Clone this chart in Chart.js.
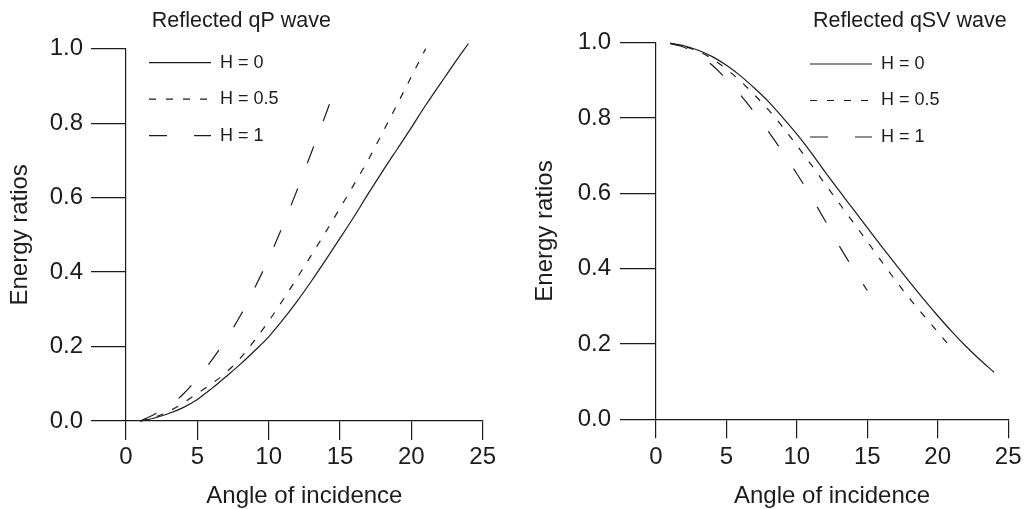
<!DOCTYPE html>
<html>
<head>
<meta charset="utf-8">
<script src="https://cdn.jsdelivr.net/npm/chart.js@4/dist/chart.umd.min.js"></script>
<style>
  html, body { margin: 0; padding: 0; background: #fff; }
  #wrap { position: relative; width: 1029px; height: 509px; overflow: hidden; }
  #qpChart { position: absolute; left: 0; top: 0; }
  #svChart { position: absolute; left: 515px; top: 0; }
</style>
</head>
<body>
<div id="wrap">
  <canvas id="qpChart" width="515" height="509"></canvas>
  <canvas id="svChart" width="514" height="509"></canvas>
</div>
<script>
// legend / axis text
var seriesLabels = ['H = 0', 'H = 0.5', 'H = 1'];
var xTickValues = [0, 5, 10, 15, 20, 25];
var yTickValues = [0, 0.2, 0.4, 0.6, 0.8, 1.0];
var yTickLabels = ['0.0', '0.2', '0.4', '0.6', '0.8', '1.0'];

// Reflected qP wave
var qpAnglesH0 = [1, 2, 3, 4, 5, 6, 7, 8, 9, 10, 11, 12, 13, 14, 15, 16, 17, 18, 19, 20, 21, 22, 23, 24];
var qpEnergyH0 = [0, 0.008, 0.020, 0.036, 0.058, 0.087, 0.119, 0.152, 0.188, 0.226, 0.272, 0.322, 0.376, 0.433, 0.491, 0.550, 0.612, 0.672, 0.730, 0.788, 0.848, 0.904, 0.960, 1.014];
var qpAnglesH05 = [1, 2, 3, 4, 5, 6, 7, 8, 9, 10, 11, 12, 13, 14, 15, 16, 17, 18, 19, 20, 21];
var qpEnergyH05 = [0, 0.010, 0.026, 0.048, 0.074, 0.100, 0.130, 0.168, 0.216, 0.268, 0.325, 0.385, 0.446, 0.508, 0.572, 0.637, 0.703, 0.776, 0.850, 0.925, 1.0];
var qpAnglesH1 = [1, 2, 3, 4, 5, 6, 7, 8, 9, 10, 11, 12, 13, 14, 14.5];
var qpEnergyH1 = [0, 0.018, 0.040, 0.072, 0.114, 0.163, 0.219, 0.282, 0.356, 0.436, 0.526, 0.621, 0.722, 0.824, 0.876];

// Reflected qSV wave
var svAnglesH0 = [1, 2, 3, 4, 5, 6, 7, 8, 9, 10, 11, 12, 13, 14, 15, 16, 17, 18, 19, 20, 21, 22, 23, 24];
var svEnergyH0 = [0.998, 0.992, 0.980, 0.963, 0.940, 0.912, 0.879, 0.843, 0.801, 0.757, 0.709, 0.657, 0.607, 0.558, 0.509, 0.460, 0.412, 0.365, 0.319, 0.275, 0.233, 0.194, 0.158, 0.125];
var svAnglesH05 = [1, 2, 3, 4, 5, 6, 7, 8, 9, 10, 11, 12, 13, 14, 15, 16, 17, 18, 19, 20, 21];
var svEnergyH05 = [0.998, 0.990, 0.977, 0.957, 0.930, 0.898, 0.861, 0.821, 0.776, 0.727, 0.677, 0.625, 0.574, 0.523, 0.472, 0.420, 0.369, 0.321, 0.276, 0.232, 0.188];
var svAnglesH1 = [1, 2, 3, 4, 5, 6, 7, 8, 9, 10, 11, 12, 13, 14, 15];
var svEnergyH1 = [0.998, 0.988, 0.968, 0.940, 0.903, 0.861, 0.814, 0.763, 0.709, 0.652, 0.592, 0.528, 0.461, 0.400, 0.342];

var ink = '#1c1c1c';
var dashes = [[], [7, 10], [18, 27]];
Chart.defaults.font.family = "'Liberation Sans', Arial, Helvetica, sans-serif";
Chart.defaults.color = ink;

function toPoints(xs, ys) {
    return xs.map(function (x, i) { return {x: x, y: ys[i]}; });
}

// moves the legend and title boxes after chart.js has done its layout
var placeBoxes = {
    id: 'placeBoxes',
    afterLayout: function (chart, args, opts) {
        var lg = chart.legend;
        var pad = lg.options.labels.padding;
        var h = lg.height;
        lg.left = opts.legendX - pad;
        lg.top = opts.legendY - pad;
        lg.width = 220;
        lg.right = lg.left + 220;
        lg.bottom = lg.top + h;
        if (opts.titleRight) {
            chart.titleBlock.right = opts.titleRight;
        }
    }
};

// point-style legend items don't carry the dataset dash, so put it back
function legendItems(chart) {
    var items = Chart.defaults.plugins.legend.labels.generateLabels(chart);
    items.forEach(function (item) {
        item.lineDash = dashes[item.datasetIndex];
        item.lineWidth = 1.2;
        item.strokeStyle = ink;
    });
    return items;
}

function makeChart(canvasID, cfg) {
    var ctx = document.getElementById(canvasID).getContext('2d');

    var sets = cfg.series.map(function (s, i) {
        return {
            label: seriesLabels[i],
            data: toPoints(s[0], s[1]),
            borderColor: ink,
            backgroundColor: ink,
            borderWidth: 1.2,
            borderDash: dashes[i],
            pointRadius: 0,
            cubicInterpolationMode: 'monotone',
            clip: false
        };
    });

    return new Chart(ctx, {
        type: 'line',
        data: { datasets: sets },
        plugins: [placeBoxes],
        options: {
            responsive: false,
            animation: false,
            layout: { padding: { left: 0, right: cfg.padRight, top: 0, bottom: 0 } },
            elements: { line: { capBezierPoints: false } },
            plugins: {
                tooltip: { enabled: false },
                title: {
                    display: true,
                    text: cfg.title,
                    align: cfg.titleAlign,
                    color: ink,
                    font: { size: 21.5, lineHeight: 1, weight: 'normal' },
                    padding: { top: 10, bottom: cfg.titleGap }
                },
                legend: {
                    position: 'chartArea',
                    align: 'start',
                    labels: {
                        usePointStyle: true,
                        pointStyle: 'line',
                        pointStyleWidth: 62,
                        padding: 18.5,
                        color: ink,
                        font: { size: 18 },
                        generateLabels: legendItems
                    }
                },
                placeBoxes: { legendX: cfg.legendX, legendY: cfg.legendY, titleRight: cfg.titleRight }
            },
            scales: {
                x: {
                    type: 'linear',
                    min: 0,
                    max: 25,
                    afterFit: function (scale) { scale.height = cfg.xAxisHeight; },
                    afterBuildTicks: function (scale) {
                        scale.ticks = xTickValues.map(function (v) { return {value: v}; });
                    },
                    grid: { drawOnChartArea: false, tickLength: 19, color: ink, lineWidth: 1.2 },
                    border: { color: ink, width: 1.2 },
                    ticks: { padding: cfg.xTickPad, color: ink, maxRotation: 0, autoSkip: false, font: { size: 24, lineHeight: 1 } },
                    title: { display: true, text: 'Angle of incidence', color: ink, font: { size: 24, lineHeight: 1 }, padding: { top: 0, bottom: 1 } }
                },
                y: {
                    type: 'linear',
                    min: 0,
                    max: 1,
                    afterFit: function (scale) { scale.width = cfg.yAxisWidth; },
                    afterBuildTicks: function (scale) {
                        scale.ticks = yTickValues.map(function (v) { return {value: v}; });
                    },
                    grid: { drawOnChartArea: false, tickLength: cfg.yTickLength, color: ink, lineWidth: 1.2 },
                    border: { color: ink, width: 1.2 },
                    ticks: {
                        padding: cfg.yTickPad,
                        color: ink,
                        font: { size: 24, lineHeight: 1 },
                        callback: function (value, index) { return yTickLabels[index]; }
                    },
                    title: { display: true, text: 'Energy ratios', color: ink, font: { size: 24, lineHeight: 1 }, padding: { top: cfg.yTitlePad, bottom: 0 } }
                }
            }
        }
    });
}

makeChart('qpChart', {
    title: 'Reflected qP wave',
    titleAlign: 'center',
    titleGap: 17.2,
    padRight: 32.3,
    xAxisHeight: 88,
    xTickPad: 5.8,
    yAxisWidth: 126,
    yTickLength: 35,
    yTickPad: 8,
    yTitlePad: 8.5,
    legendX: 149,
    legendY: 53.7,
    series: [[qpAnglesH0, qpEnergyH0], [qpAnglesH05, qpEnergyH05], [qpAnglesH1, qpEnergyH1]]
});

makeChart('svChart', {
    title: 'Reflected qSV wave',
    titleAlign: 'end',
    titleRight: 491.7,
    titleGap: 11.2,
    padRight: 16.3,
    xAxisHeight: 89.7,
    xTickPad: 7.5,
    yAxisWidth: 141,
    yTickLength: 36,
    yTickPad: 9,
    yTitlePad: 18.5,
    legendX: 295,
    legendY: 55,
    series: [[svAnglesH0, svEnergyH0], [svAnglesH05, svEnergyH05], [svAnglesH1, svEnergyH1]]
});
</script>
</body>
</html>
